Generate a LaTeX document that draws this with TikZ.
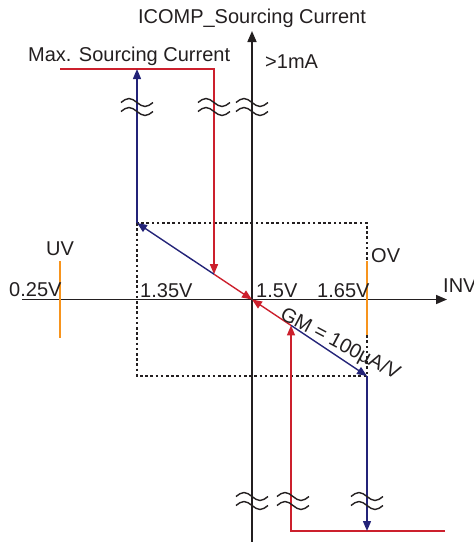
\documentclass[tikz,border=0pt]{standalone}
\usepackage{fontspec}
\setmainfont{Liberation Sans}
\usetikzlibrary{arrows.meta}
\definecolor{ink}{RGB}{35,31,32}
\definecolor{myred}{RGB}{204,32,45}
\definecolor{myblue}{RGB}{35,35,120}
\definecolor{myorange}{RGB}{247,148,29}
\tikzset{
  lbl/.style={inner sep=0pt, text=ink, font=\fontsize{20}{24}\selectfont},
  axis/.style={draw=ink, line width=1.6pt},
  redl/.style={draw=myred, line width=1.4pt},
  bluel/.style={draw=myblue, line width=1.4pt},
  tipr/.style={-{Triangle[length=10pt,width=8pt]}},
  orl/.style={draw=myorange, line width=1.8pt},
  boxl/.style={draw=ink, line width=1.3pt, dash pattern=on 2.6pt off 2.6pt},
  brk/.pic={
    \draw[ink, line width=1.4pt] (-16,-4.5) sin (-8,-8.5) cos (0,-4.5) sin (8,-0.5) cos (16,-4.5);
    \draw[ink, line width=1.4pt] (-16,4.5) sin (-8,0.5) cos (0,4.5) sin (8,8.5) cos (16,4.5);
  }
}
\begin{document}
\begin{tikzpicture}[x=1pt,y=-1pt]
\useasboundingbox (0,0) rectangle (474,542);
% coordinates
\coordinate (O) at (252,299.5);
\coordinate (ytop) at (252,31);
\coordinate (ybot) at (252,542);
\coordinate (xl) at (22,299.5);
\coordinate (xr) at (447,299.5);
\coordinate (A) at (137,223);
\coordinate (B) at (367,376);
\coordinate (P) at (214,274.2);
\coordinate (Q) at (291,325.4);
\coordinate (Atop) at (137,69);
\coordinate (R1) at (60,69);
\coordinate (R2) at (214,69);
\coordinate (R3) at (445,531);
\coordinate (R4) at (291,531);
\coordinate (Bbot) at (367,531);
\coordinate (UVt) at (60,261);
\coordinate (UVb) at (60,338);
\coordinate (OVt) at (367,261);
\coordinate (OVb) at (367,335);
% dashed box
\draw[boxl] (A) rectangle (B);
% axes
\draw[axis, -{Triangle[length=11pt,width=9pt]}] (ybot) -- (ytop);
\draw[axis, -{Triangle[length=11pt,width=9pt]}] (xl) -- (xr);
% orange limits
\draw[orl] (UVt) -- (UVb);
\draw[orl] (OVt) -- (OVb);
% red paths
\draw[redl, tipr] (R1) -- (R2) -- (P);
\draw[redl, tipr] (R3) -- (R4) -- (Q);
\draw[redl, tipr] (P) -- (O);
\draw[redl, tipr] (Q) -- (O);
% blue paths
\draw[bluel, tipr] (P) -- (A);
\draw[bluel, tipr] (A) -- (Atop);
\draw[bluel, tipr] (Q) -- (B);
\draw[bluel, tipr] (B) -- (Bbot);
% break symbols
\pic at (137,107) {brk};
\pic at (214,107) {brk};
\pic at (252,107) {brk};
\pic at (252,501) {brk};
\pic at (293,501) {brk};
\pic at (367,501) {brk};
% labels
\node[lbl, anchor=base] (ttl) at (252,23) {ICOMP\_Sourcing Current};
\node[lbl, anchor=base west] (max) at (28,61) {Max. Sourcing Current};
\node[lbl, anchor=base west] (ma) at (265,68) {>1mA};
\node[lbl, anchor=base] (uv) at (60,255) {UV};
\node[lbl, anchor=base west] (ov) at (371,262) {OV};
\node[lbl, anchor=base west] (inv) at (443,292) {INV};
\node[lbl, anchor=base west] (v025) at (9,296) {0.25V};
\node[lbl, anchor=base west] (v135) at (140,297) {1.35V};
\node[lbl, anchor=base west] (v15) at (256,297) {1.5V};
\node[lbl, anchor=base west] (v165) at (317,297) {1.65V};
\node[lbl, anchor=base west, rotate=-28] (gm) at (279,318) {GM = 100µA/V};
\end{tikzpicture}
\end{document}
